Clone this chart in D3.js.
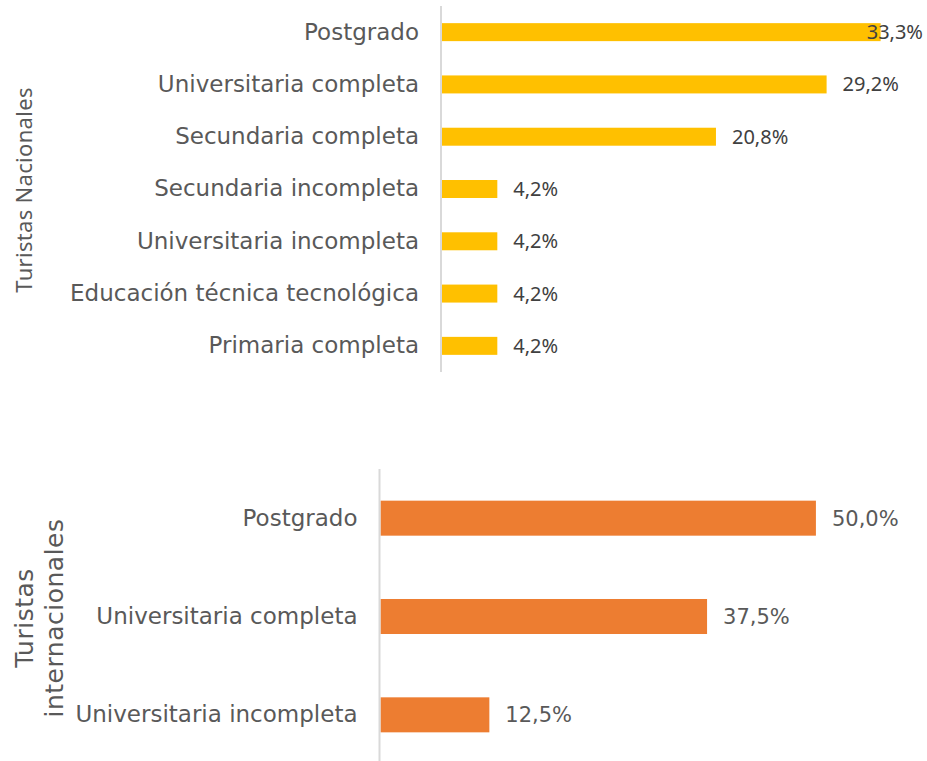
<!DOCTYPE html>
<html>
<head>
<meta charset="utf-8">
<script src="https://cdn.jsdelivr.net/npm/d3@7"></script>
<style>
  html, body { margin: 0; padding: 0; background: #fff; }
  svg { display: block; }
</style>
</head>
<body>
<div id="chart"></div>
<script>
// Turistas nacionales - nivel educativo
const nacCategories = [
  "Postgrado",
  "Universitaria completa",
  "Secundaria completa",
  "Secundaria incompleta",
  "Universitaria incompleta",
  "Educación técnica tecnológica",
  "Primaria completa"
];
const nacValues = [33.3, 29.2, 20.8, 4.2, 4.2, 4.2, 4.2];

// Turistas internacionales
const intCategories = ["Postgrado", "Universitaria completa", "Universitaria incompleta"];
const intValues = [50.0, 37.5, 12.5];

const width = 927, height = 761;
const catFont = "'DejaVu Sans', sans-serif";
const numFont = "'Noto Sans', 'Liberation Sans', sans-serif";
const fmt = v => v.toFixed(1).replace(".", ",") + "%";

const svg = d3.select("#chart").append("svg")
  .attr("width", width)
  .attr("height", height);

function drawPanel(opts) {
  const x = d3.scaleLinear().domain([0, opts.max]).range([opts.left, 903]);
  const y = d3.scaleBand()
    .domain(opts.categories)
    .range([opts.top, opts.bottom])
    .paddingInner(opts.pad)
    .paddingOuter(opts.pad / 2);

  const g = svg.append("g");
  const rows = opts.categories.map((c, i) => ({ c, v: opts.values[i] }));

  g.selectAll("rect").data(rows).join("rect")
    .attr("x", x(0))
    .attr("y", d => y(d.c))
    .attr("width", d => x(d.v) - x(0))
    .attr("height", y.bandwidth())
    .attr("fill", opts.color);

  // category axis
  const axis = g.append("g")
    .attr("transform", `translate(${x(0)},0)`)
    .call(d3.axisLeft(y).tickSize(0).tickPadding(23));
  axis.select(".domain")
    .attr("stroke", "#d9d9d9")
    .attr("stroke-width", 2)
    .attr("d", `M-1,${opts.top}V${Math.min(opts.bottom, height)}`);
  axis.selectAll("text")
    .attr("font-family", catFont)
    .attr("font-size", 23)
    .attr("fill", "#595959");

  // value labels
  const labels = g.selectAll(".val").data(rows).join("text")
    .attr("class", "val")
    .attr("y", d => y(d.c) + y.bandwidth() / 2)
    .attr("dy", "0.35em")
    .attr("font-family", opts.valFont)
    .attr("font-size", opts.valSize)
    .attr("fill", opts.valColor)
    .text(d => fmt(d.v));
  labels.attr("x", function(d) {
    const w = this.getComputedTextLength();
    return Math.min(x(d.v) + 16, 923 - w);
  });

  // rotated title
  const t = svg.append("text")
    .attr("transform", `translate(${opts.titleX},${opts.titleY}) rotate(-90)`)
    .attr("text-anchor", "middle")
    .attr("font-family", opts.titleFont)
    .attr("font-size", opts.titleSize)
    .attr("letter-spacing", opts.titleSpacing)
    .attr("fill", "#595959");
  opts.title.forEach((line, i) => {
    t.append("tspan")
      .attr("x", 0)
      .attr("dy", i === 0 ? 0 : 30)
      .text(line);
  });
}

drawPanel({
  categories: nacCategories,
  values: nacValues,
  max: 35,
  left: 442,
  top: 6,
  bottom: 372,
  pad: 0.656,
  color: "#FFC000",
  valFont: numFont,
  valSize: 20,
  valColor: "#404040",
  title: ["Turistas Nacionales"],
  titleFont: numFont,
  titleSize: 22,
  titleSpacing: "0.3px",
  titleX: 32,
  titleY: 190
});

drawPanel({
  categories: intCategories,
  values: intValues,
  max: 60,
  left: 380.5,
  top: 469,
  bottom: 764,
  pad: 0.644,
  color: "#ED7D31",
  valFont: catFont,
  valSize: 21,
  valColor: "#595959",
  title: ["Turistas", "internacionales"],
  titleFont: catFont,
  titleSize: 25,
  titleSpacing: "0.5px",
  titleX: 33,
  titleY: 618
});
</script>
</body>
</html>
